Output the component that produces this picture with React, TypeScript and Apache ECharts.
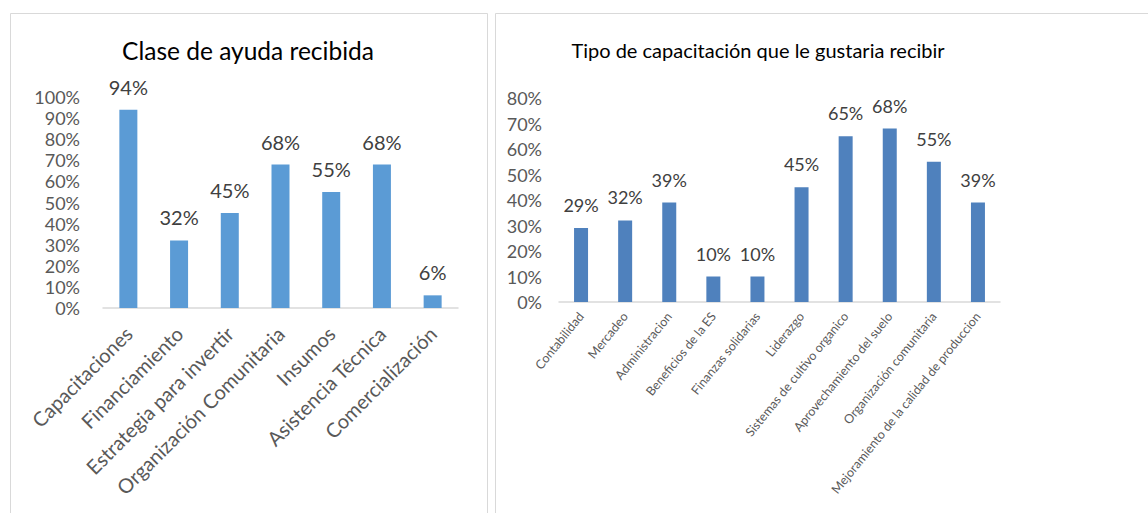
import React, { useEffect, useRef } from "react";
import * as echarts from "echarts";

const leftTitle = "Clase de ayuda recibida";
const leftCategories = [
  "Capacitaciones",
  "Financiamiento",
  "Estrategia para invertir",
  "Organización Comunitaria",
  "Insumos",
  "Asistencia Técnica",
  "Comercialización",
];
const leftValues = [94, 32, 45, 68, 55, 68, 6];

const rightTitle = "Tipo de capacitación que le gustaria recibir";
const rightCategories = [
  "Contabilidad",
  "Mercadeo",
  "Administracion",
  "Beneficios de la ES",
  "Finanzas solidarias",
  "Liderazgo",
  "Sistemas de cultivo organico",
  "Aprovechamiento del suelo",
  "Organización comunitaria",
  "Mejoramiento de la calidad de produccion",
];
const rightValues = [29, 32, 39, 10, 10, 45, 65, 68, 55, 39];

const FONT = "Lato, 'Open Sans', sans-serif";

export default function App() {
  const ref = useRef<HTMLDivElement>(null);
  useEffect(() => {
    if (!ref.current) return;
    const chart = echarts.init(ref.current, undefined, { renderer: "svg" });
    chart.setOption({
      animation: false,
      backgroundColor: "#ffffff",
      textStyle: { fontFamily: FONT },
      graphic: [
        {
          type: "rect",
          shape: { x: 10.5, y: 13.5, width: 477, height: 520 },
          style: { fill: "none", stroke: "#d9d9d9", lineWidth: 1 },
          silent: true,
        },
        {
          type: "rect",
          shape: { x: 495.5, y: 13.5, width: 700, height: 520 },
          style: { fill: "none", stroke: "#d9d9d9", lineWidth: 1 },
          silent: true,
        },
        {
          type: "text",
          x: 248,
          y: 50,
          style: {
            text: leftTitle,
            fill: "#000000",
            font: `24.5px ${FONT}`,
            textAlign: "center",
            textVerticalAlign: "middle",
          },
        },
        {
          type: "text",
          x: 758,
          y: 50,
          style: {
            text: rightTitle,
            fill: "#000000",
            font: `20px ${FONT}`,
            textAlign: "center",
            textVerticalAlign: "middle",
          },
        },
      ],
      grid: [
        { left: 103, right: 690, top: 97, bottom: 205, containLabel: false },
        { left: 559, right: 148, top: 98, bottom: 211, containLabel: false },
      ],
      xAxis: [
        {
          type: "category",
          gridIndex: 0,
          data: leftCategories,
          axisTick: { show: false },
          axisLine: { lineStyle: { color: "#d9d9d9", width: 1.5 } },
          axisLabel: {
            interval: 0,
            rotate: 45,
            margin: 22,
            color: "#595959",
            fontSize: 20,
            fontFamily: FONT,
          },
        },
        {
          type: "category",
          gridIndex: 1,
          data: rightCategories,
          axisTick: { show: false },
          axisLine: { lineStyle: { color: "#d9d9d9", width: 1.5 } },
          axisLabel: {
            interval: 0,
            rotate: 51,
            margin: 12,
            color: "#595959",
            fontSize: 12.5,
            fontFamily: FONT,
          },
        },
      ],
      yAxis: [
        {
          type: "value",
          gridIndex: 0,
          min: 0,
          max: 100,
          interval: 10,
          splitLine: { show: false },
          axisLine: { show: false },
          axisTick: { show: false },
          axisLabel: {
            formatter: "{value}%",
            margin: 23,
            color: "#595959",
            fontSize: 18,
            lineHeight: 18,
            fontFamily: FONT,
          },
        },
        {
          type: "value",
          gridIndex: 1,
          min: 0,
          max: 80,
          interval: 10,
          splitLine: { show: false },
          axisLine: { show: false },
          axisTick: { show: false },
          axisLabel: {
            formatter: "{value}%",
            margin: 17,
            color: "#595959",
            fontSize: 18,
            fontFamily: FONT,
          },
        },
      ],
      series: [
        {
          type: "bar",
          xAxisIndex: 0,
          yAxisIndex: 0,
          data: leftValues,
          barWidth: 18,
          itemStyle: { color: "#5b9bd5" },
          label: {
            show: true,
            position: "top",
            distance: 13,
            formatter: "{c}%",
            color: "#404040",
            fontSize: 20,
            fontFamily: FONT,
          },
        },
        {
          type: "bar",
          xAxisIndex: 1,
          yAxisIndex: 1,
          data: rightValues,
          barWidth: 14,
          itemStyle: { color: "#4f81bd" },
          label: {
            show: true,
            position: "top",
            distance: 14,
            formatter: "{c}%",
            color: "#404040",
            fontSize: 18,
            fontFamily: FONT,
          },
        },
      ],
    });
    return () => chart.dispose();
  }, []);
  return (
    <div
      ref={ref}
      style={{ position: "fixed", left: 0, top: 0, width: 1148, height: 513 }}
    />
  );
}
